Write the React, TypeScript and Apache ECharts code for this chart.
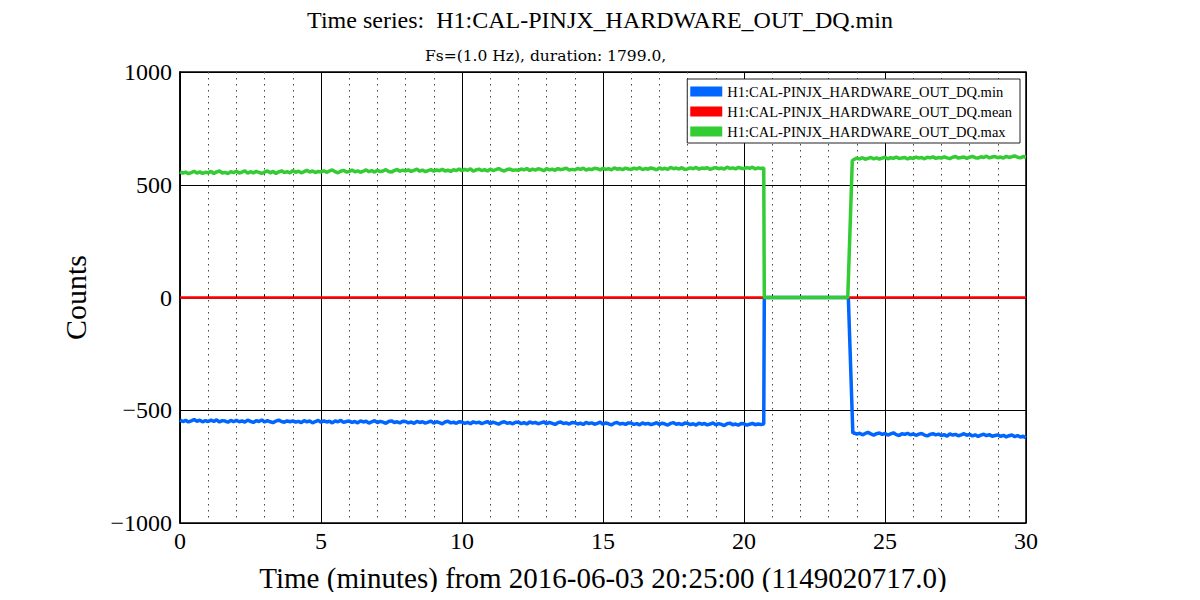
import React, { useEffect, useRef } from "react";
import * as echarts from "echarts";

// Sampling grid: minutes from 2016-06-03 20:25:00, values read every 0.1 min
const SEG1_START = 0;
const SEG2_START = 23.9;
const STEP = 0.1;

// ".max" channel (green), 0.0 .. 20.6 min
const maxSeg1 = [
  558, 551, 556, 549, 554, 560, 552, 557, 550, 555,
  553, 559, 550, 557, 561, 552, 555, 549, 558, 554,
  560, 552, 556, 562, 551, 558, 553, 559, 555, 550,
  556, 561, 553, 559, 550, 557, 562, 554, 558, 552,
  563, 555, 560, 553, 558, 564, 556, 561, 554, 559,
  557, 562, 555, 561, 566, 558, 553, 560, 564, 556,
  559, 565, 557, 562, 555, 560, 566, 558, 563, 556,
  564, 558, 561, 567, 559, 556, 563, 568, 560, 565,
  561, 566, 559, 564, 569, 560, 565, 558, 563, 567,
  560, 566, 562, 569, 561, 565, 559, 567, 563, 570,
  562, 568, 564, 571, 560, 566, 569, 563, 567, 561,
  569, 563, 567, 572, 565, 561, 568, 570, 564, 566,
  564, 570, 566, 572, 563, 569, 565, 571, 568, 562,
  571, 566, 569, 564, 572, 567, 570, 574, 565, 568,
  566, 572, 568, 574, 565, 570, 567, 573, 571, 566,
  573, 568, 571, 566, 575, 569, 572, 567, 574, 570,
  568, 574, 570, 576, 567, 572, 569, 575, 571, 566,
  575, 569, 573, 568, 577, 571, 574, 570, 576, 568,
  570, 575, 571, 577, 569, 574, 572, 576, 568, 573,
  576, 571, 574, 569, 578, 572, 575, 570, 577, 573,
  571, 576, 573, 578, 570, 575, 572,
];
// ".max" channel, 23.9 .. 30.0 min
const maxSeg2 = [
  612, 618, 614, 620, 613, 617, 621, 615, 619, 614,
  618, 622, 615, 620, 617, 623, 616, 619, 621, 614,
  620, 616, 623, 618, 621, 615, 622, 619, 624, 617,
  621, 618, 624, 619, 616, 622, 625, 618, 621, 623,
  617, 622, 626, 620, 618, 624, 621, 627, 619, 623,
  625, 620, 623, 618, 626, 621, 624, 628, 622, 619,
  625, 622,
];

// ".min" channel (blue), 0.0 .. 20.6 min
const minSeg1 = [
  -543, -550, -545, -552, -547, -541, -549, -544, -551, -546,
  -550, -544, -549, -543, -552, -546, -548, -553, -545, -550,
  -545, -551, -547, -553, -544, -549, -554, -546, -550, -543,
  -552, -546, -551, -555, -548, -544, -550, -553, -547, -551,
  -547, -553, -549, -555, -546, -551, -548, -556, -550, -545,
  -553, -547, -552, -549, -556, -548, -551, -545, -554, -550,
  -548, -554, -550, -556, -547, -552, -549, -557, -551, -546,
  -555, -549, -553, -558, -550, -547, -554, -551, -556, -549,
  -550, -556, -552, -558, -549, -554, -551, -557, -553, -548,
  -557, -551, -555, -560, -552, -549, -556, -553, -558, -551,
  -552, -558, -554, -560, -551, -556, -553, -559, -555, -550,
  -559, -553, -557, -562, -554, -551, -558, -555, -560, -553,
  -553, -559, -555, -561, -552, -557, -554, -560, -556, -551,
  -560, -554, -558, -563, -555, -552, -559, -556, -561, -554,
  -555, -561, -557, -563, -554, -559, -556, -562, -558, -553,
  -562, -556, -560, -565, -557, -554, -561, -558, -563, -556,
  -557, -563, -559, -565, -556, -561, -558, -564, -560, -555,
  -563, -557, -561, -566, -558, -555, -562, -559, -564, -557,
  -558, -564, -560, -566, -557, -562, -559, -565, -561, -556,
  -565, -559, -563, -568, -560, -557, -564, -561, -566, -559,
  -560, -566, -562, -558, -564, -561, -563,
];
// ".min" channel, 23.9 .. 30.0 min
const minSeg2 = [
  -600, -606, -602, -609, -603, -598, -605, -610, -604, -601,
  -607, -603, -610, -605, -600, -608, -612, -604, -607, -602,
  -609, -605, -611, -606, -603, -610, -614, -607, -604, -609,
  -606, -612, -608, -615, -605, -610, -607, -613, -609, -604,
  -611, -607, -614, -609, -616, -610, -606, -613, -608, -615,
  -612, -609, -616, -611, -618, -613, -610, -617, -612, -619,
  -615, -622,
];

// Transition points [minute, counts] (signal drops to zero, then returns)
const maxGap: [number, number][] = [[20.7, 575], [20.72, 0], [23.68, 0], [23.84, 607]];
const minGap: [number, number][] = [[20.7, -561], [20.72, 0], [23.7, 0], [23.86, -602]];

// ".mean" channel (red) is flat at zero over the whole span
const meanTimes = [0, 30];
const meanValues = [0, 0];

const seriesNames = [
  "H1:CAL-PINJX_HARDWARE_OUT_DQ.min",
  "H1:CAL-PINJX_HARDWARE_OUT_DQ.mean",
  "H1:CAL-PINJX_HARDWARE_OUT_DQ.max",
];
const colors = ["#0066ff", "#ff0000", "#33cc33"];

const titleText = "Time series:  H1:CAL-PINJX_HARDWARE_OUT_DQ.min";
const subtitleText = "Fs=(1.0 Hz), duration: 1799.0,";

const xTicks = [0, 30, 5];
const yTicks = [-1000, 1000, 500];

function pairs(start: number, step: number, values: number[]): [number, number][] {
  return values.map((v, i) => [+(start + i * step).toFixed(3), v]);
}

const FONT = "Liberation Serif";

export default function App() {
  const ref = useRef<HTMLDivElement>(null);
  useEffect(() => {
    if (!ref.current) return;
    const chart = echarts.init(ref.current, undefined, { renderer: "svg" });
    const minData = [...pairs(SEG1_START, STEP, minSeg1), ...minGap, ...pairs(SEG2_START, STEP, minSeg2)];
    const maxData = [...pairs(SEG1_START, STEP, maxSeg1), ...maxGap, ...pairs(SEG2_START, STEP, maxSeg2)];
    const meanData = meanTimes.map((t, i) => [t, meanValues[i]]);
    const lineSeries = (name: string, data: any[], color: string, width: number) => ({
      name,
      type: "line",
      data,
      showSymbol: false,
      symbol: "none",
      lineStyle: { color, width },
      itemStyle: { color },
      clip: true,
    });
    chart.setOption({
      animation: false,
      backgroundColor: "#fff",
      textStyle: { fontFamily: FONT },
      graphic: [
        {
          type: "text",
          left: "center",
          top: 8,
          style: { text: titleText, fontFamily: FONT, fontSize: 24, fill: "#000" },
        },
        {
          type: "text",
          left: 425,
          top: 48,
          style: { text: subtitleText, fontFamily: "DejaVu Serif", fontSize: 15.5, fill: "#000" },
        },
      ],
      legend: {
        orient: "vertical",
        right: 180,
        top: 79,
        itemWidth: 32,
        itemHeight: 10,
        itemGap: 5,
        icon: "rect",
        padding: [5, 8, 4, 3],
        backgroundColor: "#fff",
        borderColor: "#222",
        borderWidth: 1,
        textStyle: { fontFamily: FONT, fontSize: 14.5, color: "#000" },
        data: seriesNames,
      },
      grid: {
        left: 180,
        right: 174,
        top: 72,
        bottom: 77,
        show: true,
        borderColor: "#000",
        borderWidth: 1.5,
        backgroundColor: "transparent",
      },
      xAxis: {
        type: "value",
        min: xTicks[0],
        max: xTicks[1],
        interval: xTicks[2],
        name: "Time (minutes) from 2016-06-03 20:25:00 (1149020717.0)",
        nameLocation: "middle",
        nameGap: 40,
        nameTextStyle: { fontFamily: FONT, fontSize: 29, color: "#000" },
        axisLine: { show: true, lineStyle: { color: "#000", width: 1.5 } },
        axisTick: { show: true, inside: true, length: 6, lineStyle: { color: "#000" } },
        minorTick: { show: true, splitNumber: 5, length: 3, lineStyle: { color: "#000" } },
        axisLabel: { fontFamily: FONT, fontSize: 24, color: "#000", margin: 6 },
        splitLine: { show: true, lineStyle: { color: "#000", width: 1 } },
        minorSplitLine: { show: true, lineStyle: { color: "#444", width: 1, type: [1.5, 4.5] } },
      },
      yAxis: {
        type: "value",
        min: yTicks[0],
        max: yTicks[1],
        interval: yTicks[2],
        name: "Counts",
        nameLocation: "middle",
        nameGap: 90,
        nameRotate: 90,
        nameTextStyle: { fontFamily: FONT, fontSize: 30, color: "#000" },
        axisLine: { show: true, lineStyle: { color: "#000", width: 1.5 } },
        axisTick: { show: false },
        axisLabel: {
          fontFamily: FONT,
          fontSize: 24,
          color: "#000",
          margin: 8,
          formatter: (v: number) => (v < 0 ? "\u2212" + Math.abs(v) : String(v)),
        },
        splitLine: { show: true, lineStyle: { color: "#000", width: 1 } },
      },
      series: [
        lineSeries(seriesNames[0], minData, colors[0], 3.5),
        lineSeries(seriesNames[1], meanData, colors[1], 2.5),
        lineSeries(seriesNames[2], maxData, colors[2], 3.5),
      ],
    });
    return () => chart.dispose();
  }, []);
  return <div ref={ref} style={{ width: 1200, height: 600, margin: -8 }} />;
}
